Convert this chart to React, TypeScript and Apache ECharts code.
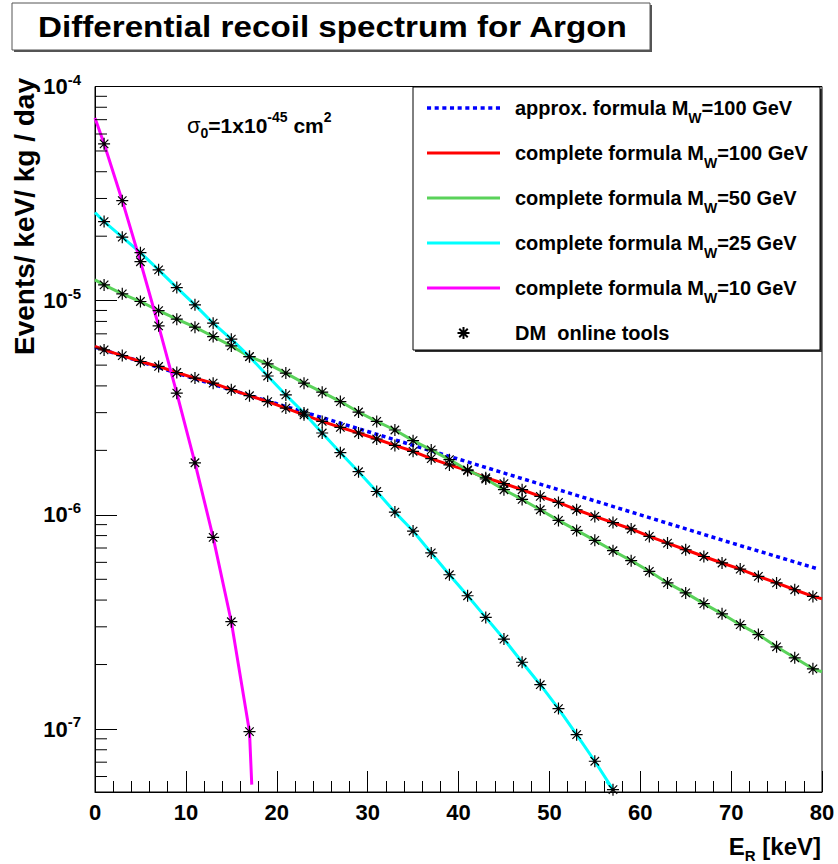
import React, { useEffect, useRef } from 'react';
import * as echarts from 'echarts';

const FONT = '"Liberation Sans", Arial, Helvetica, sans-serif';

// Energy of the "DM online tools" points (keV)
const starX = [1, 3, 5, 7, 9, 11, 13, 15, 17, 19, 21, 23, 25, 27, 29, 31, 33, 35, 37, 39,
  41, 43, 45, 47, 49, 51, 53, 55, 57, 59, 61, 63, 65, 67, 69, 71, 73, 75, 77, 79];

// complete formula M_W = 100 GeV (events / keV / kg / day)
const red100 = [5.89e-6, 5.54e-6, 5.20e-6, 4.93e-6, 4.62e-6, 4.35e-6, 4.12e-6, 3.84e-6, 3.60e-6, 3.38e-6,
  3.15e-6, 2.93e-6, 2.73e-6, 2.56e-6, 2.41e-6, 2.26e-6, 2.11e-6, 1.98e-6, 1.83e-6, 1.71e-6,
  1.61e-6, 1.49e-6, 1.40e-6, 1.31e-6, 1.22e-6, 1.143e-6, 1.056e-6, 9.83e-7, 9.2e-7, 8.59e-7,
  7.93e-7, 7.38e-7, 6.87e-7, 6.39e-7, 5.96e-7, 5.58e-7, 5.16e-7, 4.81e-7, 4.47e-7, 4.16e-7];
const red100Start = 6.12e-6;
const red100End = 4.06e-7;

// complete formula M_W = 50 GeV
const green50 = [1.185e-5, 1.076e-5, 9.91e-6, 8.99e-6, 8.20e-6, 7.52e-6, 6.80e-6, 6.15e-6, 5.48e-6, 5.07e-6,
  4.59e-6, 4.12e-6, 3.74e-6, 3.38e-6, 3.02e-6, 2.73e-6, 2.49e-6, 2.22e-6, 2.01e-6, 1.81e-6,
  1.62e-6, 1.47e-6, 1.31e-6, 1.18e-6, 1.056e-6, 9.42e-7, 8.46e-7, 7.60e-7, 6.80e-7, 6.11e-7,
  5.45e-7, 4.81e-7, 4.32e-7, 3.85e-7, 3.45e-7, 3.07e-7, 2.76e-7, 2.42e-7, 2.15e-7, 1.91e-7];
const green50Start = 1.25e-5;
const green50End = 1.85e-7;

// complete formula M_W = 25 GeV (points up to 57 keV)
const cyan25 = [2.34e-5, 1.98e-5, 1.676e-5, 1.393e-5, 1.151e-5, 9.56e-6, 7.85e-6, 6.61e-6, 5.48e-6, 4.45e-6,
  3.63e-6, 2.99e-6, 2.41e-6, 1.95e-6, 1.59e-6, 1.285e-6, 1.03e-6, 8.4e-7, 6.64e-7, 5.25e-7,
  4.19e-7, 3.32e-7, 2.63e-7, 2.05e-7, 1.61e-7, 1.245e-7, 9.41e-8, 7.07e-8, 5.21e-8];
const cyan25Start = 2.58e-5;
const cyan25EndX = 56.3;
const cyan25End = 5.7e-8;

// complete formula M_W = 10 GeV (points up to 17 keV)
const magenta10 = [5.40e-5, 2.93e-5, 1.52e-5, 7.63e-6, 3.70e-6, 1.75e-6, 7.85e-7, 3.17e-7, 9.72e-8];
const magenta10Start = 7.13e-5;
const magenta10EndX = 17.25;
const magenta10End = 5.5e-8;

// approx. formula M_W = 100 GeV
const approxX = [0, 10, 20, 30, 40, 50, 60, 70, 79.5];
const approx100 = [6.07e-6, 4.45e-6, 3.30e-6, 2.45e-6, 1.82e-6, 1.35e-6, 1.0e-6, 7.4e-7, 5.6e-7];

const xTicks = { min: 0, max: 80, interval: 10 };
const yRange = { min: 5.08e-8, max: 1e-4 };
const yMinorMantissas = [2, 3, 4, 5, 6, 7, 8, 9];
const yMinorDecades = [-8, -7, -6, -5];

const STAR = 'path://M6,0L6,12M0,6L12,6M1.76,1.76L10.24,10.24M10.24,1.76L1.76,10.24';
const SOLID_ICON = 'path://M0,0H73V3H0Z';
const DOTTED_ICON = 'path://' + Array.from({ length: 10 }, (_, i) => `M${i * 7.5},0h4v3.5h-4z`).join('');

const legendText: Record<string, [string, string | null]> = {
  approx: ['approx. formula M', '=100 GeV'],
  c100: ['complete formula M', '=100 GeV'],
  c50: ['complete formula M', '=50 GeV'],
  c25: ['complete formula M', '=25 GeV'],
  c10: ['complete formula M', '=10 GeV'],
  DM: ['DM  online tools', null],
};

function withEnds(xs: number[], ys: number[], x0: number, y0: number, x1: number, y1: number) {
  const out: number[][] = [[x0, y0]];
  ys.forEach((y, i) => out.push([xs[i], y]));
  out.push([x1, y1]);
  return out;
}

export default function App() {
  const ref = useRef<HTMLDivElement>(null);
  useEffect(() => {
    const chart = echarts.init(ref.current!, null, { renderer: 'svg' });

    const minorTicks: number[][] = [];
    yMinorDecades.forEach((d) => yMinorMantissas.forEach((m) => {
      const v = m * Math.pow(10, d);
      if (v > yRange.min && v < yRange.max) minorTicks.push([0, v]);
    }));

    const stars: number[][] = [];
    [red100, green50, cyan25, magenta10].forEach((arr) => arr.forEach((v, i) => stars.push([starX[i], v])));

    const lineCommon = { type: 'line', symbol: 'none', showSymbol: false, silent: true, z: 2 };

    const option: any = {
      animation: false,
      backgroundColor: '#fff',
      textStyle: { fontFamily: FONT },
      grid: { left: 95, right: 16, top: 86.5, bottom: 72, show: true, borderColor: '#000', borderWidth: 1 },
      xAxis: {
        type: 'value', min: xTicks.min, max: xTicks.max, interval: xTicks.interval,
        axisLine: { show: true, lineStyle: { color: '#000', width: 1 } },
        axisTick: { show: true, inside: true, length: 21, lineStyle: { color: '#000', width: 1 } },
        minorTick: { show: true, splitNumber: 5, length: 11, lineStyle: { color: '#000', width: 1 } },
        splitLine: { show: false },
        axisLabel: { color: '#000', fontSize: 22, fontWeight: 'bold', fontFamily: FONT, margin: 9 },
      },
      yAxis: {
        type: 'log', logBase: 10, min: yRange.min, max: yRange.max,
        axisLine: { show: true, lineStyle: { color: '#000', width: 1 } },
        axisTick: { show: true, inside: true, length: 22, lineStyle: { color: '#000', width: 1 } },
        splitLine: { show: false },
        minorTick: { show: false },
        axisLabel: {
          margin: 14,
          formatter: (v: number) => {
            const e = Math.log10(v);
            const r = Math.round(e);
            if (Math.abs(e - r) > 1e-6) return '';
            return `{b|10}{s|${r}}`;
          },
          rich: {
            b: { fontSize: 22, fontWeight: 'bold', color: '#000', fontFamily: FONT, lineHeight: 30 },
            s: { fontSize: 15, fontWeight: 'bold', color: '#000', fontFamily: FONT, lineHeight: 14, verticalAlign: 'top' },
          },
        },
      },
      legend: {
        data: [
          { name: 'approx', icon: DOTTED_ICON },
          { name: 'c100', icon: SOLID_ICON },
          { name: 'c50', icon: SOLID_ICON },
          { name: 'c25', icon: SOLID_ICON },
          { name: 'c10', icon: SOLID_ICON },
          { name: 'DM' },
        ],
        orient: 'vertical', left: 427, top: 98, padding: 0,
        itemWidth: 73, itemHeight: 12, itemGap: 18,
        selectedMode: false, z: 5,
        formatter: (name: string) => {
          const l = legendText[name];
          return l[1] ? `{g| }{t|${l[0]}}{w|W}{t|${l[1]}}` : `{g| }{t|${l[0]}}`;
        },
        textStyle: {
          rich: {
            g: { width: 10, fontSize: 20, lineHeight: 34 },
            t: { fontSize: 20, fontWeight: 'bold', color: '#000', fontFamily: FONT, lineHeight: 34 },
            w: { fontSize: 14, fontWeight: 'bold', color: '#000', fontFamily: FONT, lineHeight: 12, verticalAlign: 'bottom' },
          },
        },
      },
      graphic: [
        { type: 'rect', z: 10, shape: { x: 14, y: 5, width: 638, height: 47 }, style: { fill: '#555' } },
        { type: 'rect', z: 10, shape: { x: 12, y: 3, width: 638, height: 47 }, style: { fill: '#fff', stroke: '#555', lineWidth: 1 } },
        {
          type: 'text', z: 11, x: 38, y: 27, scaleX: 1.145,
          style: { text: 'Differential recoil spectrum for Argon', fontSize: 29, fontWeight: 'bold', fontFamily: FONT, fill: '#000', verticalAlign: 'middle', align: 'left' },
        },
        { type: 'rect', z: 3, shape: { x: 415, y: 89, width: 407, height: 263 }, style: { fill: '#333' } },
        { type: 'rect', z: 3, shape: { x: 413, y: 87, width: 407, height: 263 }, style: { fill: '#fff', stroke: '#000', lineWidth: 1 } },
        {
          type: 'text', z: 11, x: 187, y: 125,
          style: {
            text: '{s|σ}{sub|0}{m|=1x10}{sup|-45}{m| cm}{sup|2}',
            verticalAlign: 'middle', align: 'left',
            rich: {
              s: { fontSize: 22, fontFamily: FONT, fill: '#000', lineHeight: 30 },
              m: { fontSize: 21, fontWeight: 'bold', fontFamily: FONT, fill: '#000', lineHeight: 30 },
              sub: { fontSize: 14, fontWeight: 'bold', fontFamily: FONT, fill: '#000', lineHeight: 13, verticalAlign: 'bottom' },
              sup: { fontSize: 14, fontWeight: 'bold', fontFamily: FONT, fill: '#000', lineHeight: 13, verticalAlign: 'top' },
            },
          },
        },
        {
          type: 'text', z: 11, x: 38, y: 78, rotation: Math.PI / 2,
          style: { text: 'Events/ keV/ kg / day', fontSize: 28, fontWeight: 'bold', fontFamily: FONT, fill: '#000', align: 'right', verticalAlign: 'bottom' },
        },
        {
          type: 'text', z: 11, x: 821, y: 846,
          style: {
            text: '{m|E}{sub|R}{m| [keV]}', align: 'right', verticalAlign: 'middle',
            rich: {
              m: { fontSize: 24, fontWeight: 'bold', fontFamily: FONT, fill: '#000', lineHeight: 34 },
              sub: { fontSize: 15, fontWeight: 'bold', fontFamily: FONT, fill: '#000', lineHeight: 14, verticalAlign: 'bottom' },
            },
          },
        },
      ],
      series: [
        {
          type: 'custom', name: 'yMinorTicks', silent: true, z: 3,
          data: minorTicks, encode: { x: 0, y: 1 },
          renderItem: (params: any, api: any) => {
            const p = api.coord([0, api.value(1)]);
            return { type: 'line', shape: { x1: p[0], y1: p[1], x2: p[0] + 12, y2: p[1] }, style: { stroke: '#000', lineWidth: 1 } };
          },
        },
        {
          ...lineCommon, name: 'approx', data: approxX.map((x, i) => [x, approx100[i]]),
          lineStyle: { color: '#0000ff', width: 3.5, type: [4, 3.5], cap: 'butt' }, itemStyle: { color: '#0000ff' },
        },
        {
          ...lineCommon, name: 'c100', data: withEnds(starX, red100, 0, red100Start, 80, red100End),
          lineStyle: { color: '#ff0000', width: 3 }, itemStyle: { color: '#ff0000' },
        },
        {
          ...lineCommon, name: 'c50', data: withEnds(starX, green50, 0, green50Start, 80, green50End),
          lineStyle: { color: '#5ad25a', width: 3 }, itemStyle: { color: '#5ad25a' },
        },
        {
          ...lineCommon, name: 'c25', data: withEnds(starX, cyan25, 0, cyan25Start, cyan25EndX, cyan25End),
          lineStyle: { color: '#00ffff', width: 3 }, itemStyle: { color: '#00ffff' },
        },
        {
          ...lineCommon, name: 'c10', data: withEnds(starX, magenta10, 0, magenta10Start, magenta10EndX, magenta10End),
          lineStyle: { color: '#ff00ff', width: 3 }, itemStyle: { color: '#ff00ff' },
        },
        {
          type: 'scatter', name: 'DM', data: stars, symbol: STAR, symbolSize: 12, silent: true, z: 4,
          itemStyle: { color: '#000', borderColor: '#000', borderWidth: 1.2, opacity: 1 },
        },
      ],
    };
    chart.setOption(option);
    return () => chart.dispose();
  }, []);
  return <div ref={ref} style={{ position: 'fixed', left: 0, top: 0, width: 838, height: 864, background: '#fff' }} />;
}
